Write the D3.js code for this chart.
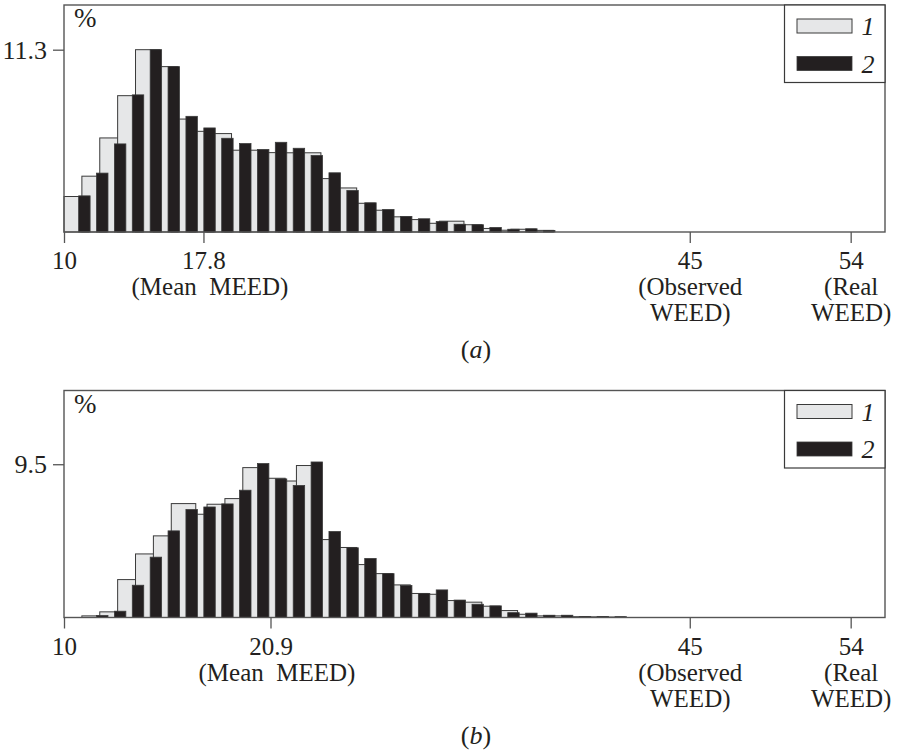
<!DOCTYPE html>
<html>
<head>
<meta charset="utf-8">
<title>MEED histograms</title>
<style>
    body { margin: 0; background: #fff; }
    text { font-family: "Liberation Serif", "DejaVu Serif", serif; fill: #231f20; }
    .frame { fill: none; stroke: #555; stroke-width: 1.4px; }
    .bar1 { fill: #e6e7e8; stroke: #3a3a3a; stroke-width: 1px; }
    .bar2 { fill: #231f20; stroke: #3a3a3a; stroke-width: 0.8px; }
    .axis .tick line { stroke: #555; stroke-width: 1.3px; }
    .axis .domain { display: none; }
</style>
</head>
<body>
<svg id="chart" width="897" height="754"></svg>
<script src="https://cdn.jsdelivr.net/npm/d3@7"></script>
<script>
// panel (a)
const binsA = [10, 11, 12, 13, 14, 15, 16, 17, 18, 19, 20, 21, 22, 23, 24, 25, 26, 27, 28, 29, 30, 31, 32, 33, 34, 35, 36]
const series1A = [2.2, 3.46, 5.83, 8.45, 11.3, 10.25, 7.0, 6.24, 6.1, 5.07, 5.07, 4.92, 4.91, 4.91, 3.31, 2.73, 1.78, 1.35, 0.94, 0.77, 0.54, 0.67, 0.45, 0.22, 0.11, 0.17, 0.1]
const series2A = [2.24, 3.65, 5.46, 8.5, 11.3, 10.25, 7.17, 6.45, 5.81, 5.48, 5.11, 5.56, 5.19, 4.74, 3.67, 2.57, 1.81, 1.39, 0.96, 0.82, 0.65, 0.48, 0.45, 0.28, 0.17, 0.2, 0.1]
const tickPosA = [10, 17.8, 45, 54]
const tickLabelsA = [["10"], ["17.8", "(Mean  MEED)"], ["45", "(Observed", "WEED)"], ["54", "(Real", "WEED)"]]
const yTickA = 11.3

// panel (b)
const binsB = [11, 12, 13, 14, 15, 16, 17, 18, 19, 20, 21, 22, 23, 24, 25, 26, 27, 28, 29, 30, 31, 32, 33, 34, 35, 36, 37, 38, 39, 40]
const series1B = [0.1, 0.35, 2.35, 3.94, 5.06, 7.06, 6.4, 7.02, 7.37, 9.29, 8.63, 8.46, 9.42, 4.83, 4.34, 3.28, 2.72, 2.02, 1.49, 1.44, 1.05, 0.95, 0.7, 0.43, 0.2, 0.1, 0.1, 0.05, 0.04, 0.03]
const series2B = [0.12, 0.39, 2.0, 3.74, 5.37, 6.69, 6.85, 7.04, 7.89, 9.54, 8.59, 8.18, 9.64, 5.33, 4.32, 3.66, 2.72, 1.98, 1.49, 1.71, 1.08, 0.82, 0.72, 0.3, 0.27, 0.14, 0.14, 0.06, 0.06, 0.05]
// the 20.9 tick sits here on the drawn axis
const tickPosB = [10, 21.55, 45, 54]
const tickLabelsB = [["10"], ["20.9", "(Mean  MEED)"], ["45", "(Observed", "WEED)"], ["54", "(Real", "WEED)"]]
const yTickB = 9.5

const legendLabels = ["1", "2"]

let svg = d3.select("#chart")

let xScale = d3.scaleLinear()
    .domain([10, 55.92])
    .range([64, 885])

const yMax = 14.07
const w1 = 1.37, off2 = 0.82, w2 = 0.64

function drawPanel(top, bottom, bins, s1, s2, tickPos, tickLabels, yTick, caption, captionY) {
    let g = svg.append("g")

    let yScale = d3.scaleLinear()
        .domain([0, yMax])
        .range([bottom, top])

    let d1 = bins.map((b, i) => ({ bin: b, v: s1[i] }))
    let d2 = bins.map((b, i) => ({ bin: b, v: s2[i] }))

    // light bars behind
    g.selectAll(".bar1").data(d1).join("rect")
        .attr("class", "bar1")
        .attr("x", d => xScale(d.bin))
        .attr("width", d => xScale(d.bin + w1) - xScale(d.bin))
        .attr("y", d => yScale(d.v))
        .attr("height", d => yScale(0) - yScale(d.v))

    // dark bars on top
    g.selectAll(".bar2").data(d2).join("rect")
        .attr("class", "bar2")
        .attr("x", d => xScale(d.bin + off2))
        .attr("width", d => xScale(d.bin + off2 + w2) - xScale(d.bin + off2))
        .attr("y", d => yScale(d.v))
        .attr("height", d => yScale(0) - yScale(d.v))

    g.append("rect")
        .attr("class", "frame")
        .attr("x", xScale.range()[0])
        .attr("y", top)
        .attr("width", xScale.range()[1] - xScale.range()[0])
        .attr("height", bottom - top)

    // x axis with multi-line labels
    let xAxis = g.append("g")
        .attr("class", "axis")
        .attr("transform", `translate(0, ${bottom})`)
        .call(d3.axisBottom(xScale)
            .tickValues(tickPos)
            .tickSize(11)
            .tickFormat(""))

    xAxis.selectAll(".tick").each(function (d, i) {
        let t = d3.select(this).select("text")
            .attr("y", 37)
            .attr("dy", null)
            .attr("font-size", 25)
            .attr("font-family", null)
            .attr("fill", null)
            .style("white-space", "pre")
        tickLabels[i].forEach((line, j) => {
            t.append("tspan")
                .attr("x", line.startsWith("(Mean") ? 6 : 0)
                .attr("dy", j === 0 ? 0 : 26)
                .text(line)
        })
    })

    // y axis
    g.append("g")
        .attr("class", "axis")
        .attr("transform", `translate(${xScale.range()[0]}, 0)`)
        .call(d3.axisLeft(yScale)
            .tickValues([yTick])
            .tickSize(11)
            .tickPadding(6)
            .tickFormat(d => d))
        .selectAll("text")
        .attr("font-size", 26)
        .attr("font-family", null)
        .attr("fill", null)

    g.append("text")
        .attr("x", 74)
        .attr("y", top + 22)
        .attr("font-size", 27)
        .text("%")

    // legend
    let lx = 784.5
    let legend = g.append("g")
    legend.append("rect")
        .attr("x", lx)
        .attr("y", top)
        .attr("width", xScale.range()[1] - lx)
        .attr("height", 77.5)
        .attr("fill", "#fff")
        .attr("stroke", "#3a3a3a")
        .attr("stroke-width", 1.2)
    legendLabels.forEach((lab, i) => {
        legend.append("rect")
            .attr("class", i === 0 ? "bar1" : "bar2")
            .attr("x", 797)
            .attr("y", top + 14 + i * 37.5)
            .attr("width", 55)
            .attr("height", 14)
        legend.append("text")
            .attr("x", 868)
            .attr("y", top + 30 + i * 37.5)
            .attr("text-anchor", "middle")
            .attr("font-size", 26)
            .attr("font-style", "italic")
            .text(lab)
    })

    // caption
    let cap = g.append("text")
        .attr("x", 476)
        .attr("y", captionY)
        .attr("text-anchor", "middle")
        .attr("font-size", 26)
    cap.append("tspan").text("(")
    cap.append("tspan").attr("font-style", "italic").text(caption)
    cap.append("tspan").text(")")
}

drawPanel(5, 232, binsA, series1A, series2A, tickPosA, tickLabelsA, yTickA, "a", 358)
drawPanel(390.5, 617.5, binsB, series1B, series2B, tickPosB, tickLabelsB, yTickB, "b", 744)
</script>
</body>
</html>
